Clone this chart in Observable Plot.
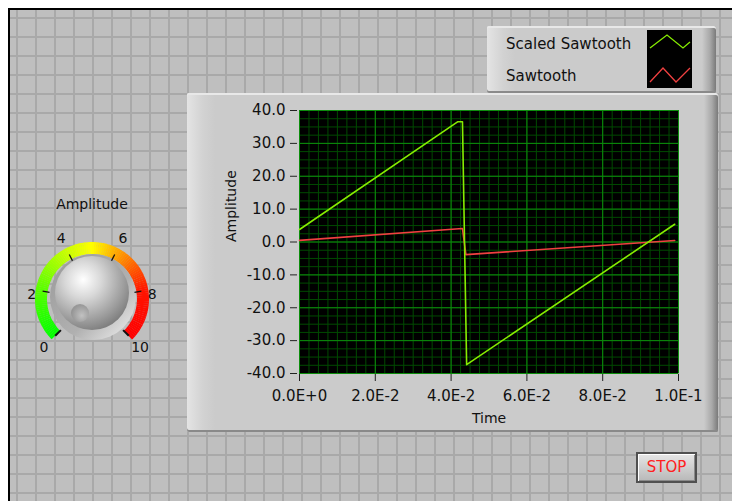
<!DOCTYPE html>
<html>
<head>
<meta charset="utf-8">
<script src="https://cdn.jsdelivr.net/npm/d3@7"></script>
<script src="https://cdn.jsdelivr.net/npm/@observablehq/plot@0.6"></script>
<style>
  html, body { margin:0; padding:0; background:#fff; width:732px; height:501px; overflow:hidden; font-family:"DejaVu Sans", sans-serif; }
  #win { position:absolute; left:8px; top:8px; width:724px; height:493px; border-left:2px solid #000; border-top:2px solid #000;
    background-color:#bfbfbf;
    background-image: linear-gradient(to right, #a9a9a9 2px, transparent 2px), linear-gradient(to bottom, #a9a9a9 2px, transparent 2px);
    background-size:19px 19px; background-position:6px 7px; }
  .panel { position:absolute; box-sizing:border-box; border-radius:2px;
    background: linear-gradient(to right, #e4e4e4 0px, #d2d2d2 16px, #cbcbcb 28px, #cbcbcb calc(100% - 14px), #a8a8a8 calc(100% - 6px), #7a7a7a 100%);
    box-shadow: inset 0 2px 0 #e8e8e8, inset 0 -2px 0 #8a8a8a; }
  #graphPanel { left:187px; top:93px; width:531px; height:339px; }
  #legendPanel { left:487px; top:26px; width:229px; height:67px; }
  #chart { position:absolute; left:187px; top:93px; }
  .legtxt { position:absolute; font-size:15px; color:#111; white-space:nowrap; }
  #stop { position:absolute; left:636px; top:452px; width:61px; height:31px; box-sizing:border-box; border:2px solid #505050;
    background:linear-gradient(#e6e6e6, #cacaca 60%, #b8b8b8); box-shadow: inset 1px 1px 0 #fff, inset -1px -1px 0 #8a8a8a;
    color:#ff2020; font-size:15px; text-align:center; line-height:27px; }
  #knob { position:absolute; left:0; top:0; }
</style>
</head>
<body>
<div id="win"></div>
<div class="panel" id="legendPanel"></div>
<div class="panel" id="graphPanel"></div>
<div class="legtxt" style="left:506px; top:35px;">Scaled Sawtooth</div>
<div class="legtxt" style="left:506px; top:67px;">Sawtooth</div>
<svg id="legsw" style="position:absolute; left:0; top:0;" width="732" height="100"></svg>
<div id="chart"></div>
<svg id="knob" width="200" height="380"></svg>
<div id="stop">STOP</div>
<script>
// ---- data ----
const seriesNames = ["Scaled Sawtooth", "Sawtooth"];
const seriesColors = ["#86ec00", "#f04040"];
const scaledTime  = [0,   0.0418, 0.0430, 0.0441, 0.099];
const scaledValue = [3.8, 36.6,   36.6,   -37.3,  5.4];
const sawTime  = [0,   0.0430, 0.0439, 0.099];
const sawValue = [0.5, 4.1,    -3.85,  0.45];
const xTicks = [0, 0.02, 0.04, 0.06, 0.08, 0.1];
const xTickLabels = ["0.0E+0", "2.0E-2", "4.0E-2", "6.0E-2", "8.0E-2", "1.0E-1"];
const yTicks = [-40, -30, -20, -10, 0, 10, 20, 30, 40];
const yTickLabels = ["-40.0", "-30.0", "-20.0", "-10.0", "0.0", "10.0", "20.0", "30.0", "40.0"];
const knobTicks = [0, 2, 4, 6, 8, 10];
const knobLabel = "Amplitude";

const scaledData = scaledTime.map((t, i) => ({t, v: scaledValue[i]}));
const sawData = sawTime.map((t, i) => ({t, v: sawValue[i]}));
const minorX = d3.range(0, 0.1 + 1e-9, 0.0025);
const minorY = d3.range(-40, 40 + 1e-9, 2.5);
const lab = (ticks, labels) => d => labels[ticks.findIndex(t => Math.abs(t - d) < 1e-9)];

const chart = Plot.plot({
  width: 531, height: 339,
  marginLeft: 112, marginRight: 40, marginTop: 17, marginBottom: 59,
  x: {domain: [0, 0.1]},
  y: {domain: [-40, 40]},
  style: {background: "transparent", fontFamily: "DejaVu Sans", fontSize: "15px", color: "#111", overflow: "visible"},
  marks: [
    Plot.frame({fill: "black"}),
    Plot.ruleX(minorX, {stroke: "#004a00", strokeWidth: 1}),
    Plot.ruleY(minorY, {stroke: "#004a00", strokeWidth: 1}),
    Plot.ruleX(xTicks, {stroke: "#0c8c0c", strokeWidth: 1}),
    Plot.ruleY(yTicks, {stroke: "#0c8c0c", strokeWidth: 1}),
    Plot.line(sawData, {x: "t", y: "v", stroke: seriesColors[1], strokeWidth: 1.6}),
    Plot.line(scaledData, {x: "t", y: "v", stroke: seriesColors[0], strokeWidth: 1.6}),
    Plot.axisX({ticks: xTicks, tickFormat: lab(xTicks, xTickLabels), tickSize: 7, tickPadding: 9, dy: 1, label: null, stroke: "#222"}),
    Plot.axisY({ticks: yTicks, tickFormat: lab(yTicks, yTickLabels), tickSize: 7, tickPadding: 5, dx: -2, label: null, stroke: "#222"}),
    Plot.text(["Time"], {frameAnchor: "bottom", dy: 49, fontSize: 14, fill: "#111"}),
    Plot.text(["Amplitude"], {frameAnchor: "left", dx: -68, rotate: -90, fontSize: 14, fill: "#111"})
  ]
});
document.getElementById("chart").appendChild(chart);

// ---- legend swatches ----
const leg = d3.select("#legsw");
leg.append("rect").attr("x", 647).attr("y", 30).attr("width", 45).attr("height", 58).attr("fill", "#000");
leg.append("polyline").attr("points", "650,48 667,35 683,48 690,42").attr("fill", "none").attr("stroke", seriesColors[0]).attr("stroke-width", 1.3);
leg.append("polyline").attr("points", "650,82 663,68 676,82 690,68").attr("fill", "none").attr("stroke", seriesColors[1]).attr("stroke-width", 1.3);

// ---- knob ----
const k = d3.select("#knob");
const cx = 92, cy = 299, rOut = 57, rIn = 45;
const ang = v => (-135 + 27 * v) * Math.PI / 180;
const pt = (v, r) => [cx + r * Math.sin(ang(v)), cy - r * Math.cos(ang(v))];
const col = d3.scaleLinear().domain([0, 2, 4, 5, 6, 7, 8, 10])
  .range(["#00ff00", "#55ff00", "#ccff00", "#ffff00", "#ffaa00", "#ff5a00", "#ff1400", "#ff0000"]).interpolate(d3.interpolateRgb);
const defs = k.append("defs");
const g1 = defs.append("radialGradient").attr("id", "ball").attr("cx", "38%").attr("cy", "32%").attr("r", "70%");
g1.append("stop").attr("offset", "0%").attr("stop-color", "#ffffff");
g1.append("stop").attr("offset", "35%").attr("stop-color", "#d8d8d8");
g1.append("stop").attr("offset", "80%").attr("stop-color", "#9c9c9c");
g1.append("stop").attr("offset", "100%").attr("stop-color", "#808080");
const g2 = defs.append("radialGradient").attr("id", "dimple").attr("cx", "60%").attr("cy", "65%").attr("r", "60%");
g2.append("stop").attr("offset", "0%").attr("stop-color", "#c8c8c8");
g2.append("stop").attr("offset", "100%").attr("stop-color", "#8e8e8e");
const g3 = defs.append("linearGradient").attr("id", "ring").attr("x1", "0").attr("y1", "0").attr("x2", "1").attr("y2", "1");
g3.append("stop").attr("offset", "0%").attr("stop-color", "#9a9a9a");
g3.append("stop").attr("offset", "60%").attr("stop-color", "#b0b0b0");
g3.append("stop").attr("offset", "100%").attr("stop-color", "#f4f4f4");
const arc = d3.arc();
const N = 120;
for (let i = 0; i < N; i++) {
  const v0 = 10 * i / N, v1 = 10 * (i + 1) / N + 0.01;
  k.append("path")
    .attr("transform", `translate(${cx},${cy})`)
    .attr("d", arc({innerRadius: rIn, outerRadius: rOut, startAngle: ang(v0), endAngle: ang(v1)}))
    .attr("fill", col((v0 + v1) / 2));
}
// ring & ball
k.append("circle").attr("cx", cx + 1).attr("cy", cy - 2).attr("r", 43).attr("fill", "url(#ring)");
k.append("circle").attr("cx", cx).attr("cy", cy - 6).attr("r", 37).attr("fill", "url(#ball)");
k.append("circle").attr("cx", 80).attr("cy", 313).attr("r", 9).attr("fill", "url(#dimple)").attr("opacity", 0.8);
// ticks
knobTicks.forEach(v => {
  const end = v === 0 || v === 10;
  const a = pt(v, end ? 44 : 43), b = pt(v, end ? 52 : 50);
  k.append("line").attr("x1", a[0]).attr("y1", a[1]).attr("x2", b[0]).attr("y2", b[1])
    .attr("stroke", "#111").attr("stroke-width", end ? 2 : 1.3);
  const rl = (v === 2 || v === 8) ? 61 : 68;
  const p = pt(v, rl);
  k.append("text").attr("x", p[0]).attr("y", p[1] + (v === 2 || v === 8 ? 10 : 5)).attr("text-anchor", "middle")
    .attr("font-family", "DejaVu Sans").attr("font-size", 14).attr("fill", "#111").text(v);
});
k.append("text").attr("x", 92).attr("y", 209).attr("text-anchor", "middle")
  .attr("font-family", "DejaVu Sans").attr("font-size", 14).attr("fill", "#111").text(knobLabel);
</script>
</body>
</html>
